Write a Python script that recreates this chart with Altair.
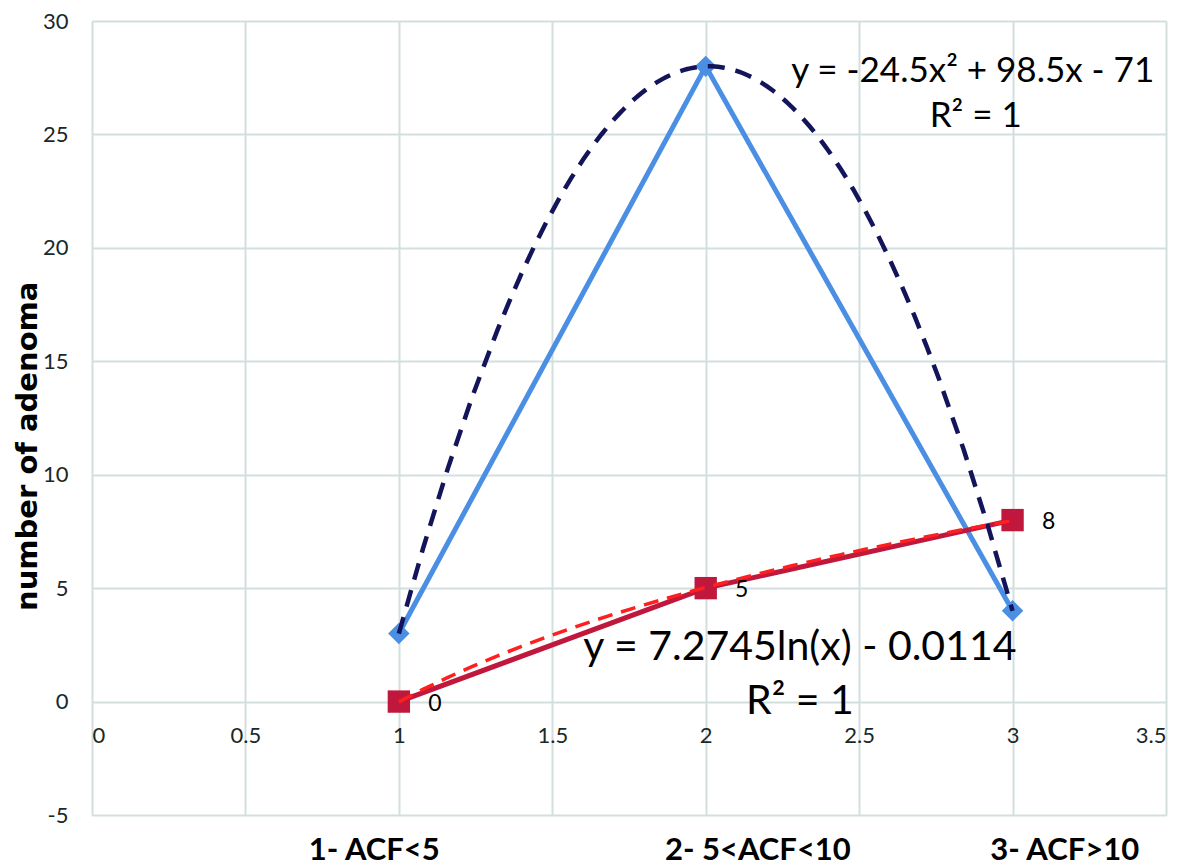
import altair as alt
import pandas as pd

# ---- data ----
x_pos = [1, 2, 3]
categories = ["1- ACF<5", "2- 5<ACF<10", "3- ACF>10"]
category_x = [0.92, 2.17, 3.17]
adenoma_blue = [3, 28, 4]
adenoma_red = [0, 5, 8]
red_labels = ["0", "5", "8"]
x_ticks = [0, 0.5, 1, 1.5, 2, 2.5, 3, 3.5]
y_ticks = [-5, 0, 5, 10, 15, 20, 25, 30]
eq_text = ["y = -24.5x² + 98.5x - 71", "R² = 1", "y = 7.2745ln(x) - 0.0114", "R² = 1"]
eq_x = [2.87, 2.88, 2.307, 2.307]
eq_y = [27.8, 25.8, 2.35, 0.0]
eq_size = [35, 35, 41, 41]

W, H = 1074, 794
FONT = "Lato"

blue_df = pd.DataFrame({"x": x_pos, "y": adenoma_blue})
red_df = pd.DataFrame({"x": x_pos, "y": adenoma_red, "lab": red_labels})
cat_df = pd.DataFrame({"x": category_x, "cat": categories})
eq_df = pd.DataFrame({"x": eq_x, "y": eq_y, "t": eq_text, "s": eq_size})

xs = alt.Scale(domain=[0, 3.5], nice=False, zero=False)
ys = alt.Scale(domain=[-5, 30], nice=False, zero=False)

X = alt.X("x:Q", scale=xs, axis=alt.Axis(values=x_ticks, labelExpr="replace(format(datum.value, '~g'), '−', '-')",
                                         offset=-(H * 5 / 35), title=None))
Y = alt.Y("y:Q", scale=ys, axis=alt.Axis(values=y_ticks, labelExpr="replace(format(datum.value, '~g'), '−', '-')",
                                         title="number of adenoma"))

blue_line = alt.Chart(blue_df).mark_line(color="#4a8fe3", strokeWidth=5).encode(x=X, y=Y)
blue_pts = alt.Chart(blue_df).mark_point(shape="diamond", filled=True, size=460, color="#4a8fe3", opacity=1).encode(x="x:Q", y="y:Q")
red_line = alt.Chart(red_df).mark_line(color="#c0173d", strokeWidth=5).encode(x="x:Q", y="y:Q")
red_pts = alt.Chart(red_df).mark_point(shape="square", filled=True, size=500, color="#c0173d", opacity=1).encode(x="x:Q", y="y:Q")
red_lab = alt.Chart(red_df).mark_text(dx=36, dy=2, fontSize=23, font=FONT, color="#000000").encode(x="x:Q", y="y:Q", text="lab:N")

blue_trend = alt.Chart(blue_df).transform_regression("x", "y", method="poly", order=2, extent=[1, 3]).mark_line(
    color="#14145a", strokeWidth=4.5, strokeDash=[17, 11]).encode(x="x:Q", y="y:Q")
red_trend = alt.Chart(red_df).transform_regression("x", "y", method="log", extent=[1, 3]).mark_line(
    color="#ff1f1f", strokeWidth=3.5, strokeDash=[15, 9]).encode(x="x:Q", y="y:Q")

eqs = alt.Chart(eq_df).mark_text(font=FONT, color="#000000", baseline="middle", align="center").encode(
    x="x:Q", y="y:Q", text="t:N", size=alt.Size("s:Q", scale=None, legend=None))

cats = alt.Chart(cat_df).mark_text(font=FONT, fontSize=31, fontWeight="bold", color="#000000", baseline="middle").encode(
    x="x:Q", y=alt.value(H + 36), text="cat:N")

chart = alt.layer(blue_line, red_line, blue_pts, red_pts, blue_trend, red_trend, red_lab, eqs, cats).properties(
    width=W, height=H,
    autosize=alt.AutoSizeParams(type="none"),
    padding={"left": 84, "top": 13, "right": 5, "bottom": 51},
).configure_view(stroke=None).configure(background="#ffffff").configure_axis(
    grid=True, domain=False, ticks=False, gridColor="#d3dede", gridWidth=2,
    labelFont=FONT, labelFontSize=22, labelColor="#1a2828",
    titleFont="DejaVu Sans", titleFontSize=29, titleFontWeight="bold", titleColor="#000000",
).configure_axisX(labelPadding=24).configure_axisY(labelPadding=24, titlePadding=0, titleY=H * 0.535)

chart.save("out.html", embed_options={"renderer": "svg", "actions": False})
